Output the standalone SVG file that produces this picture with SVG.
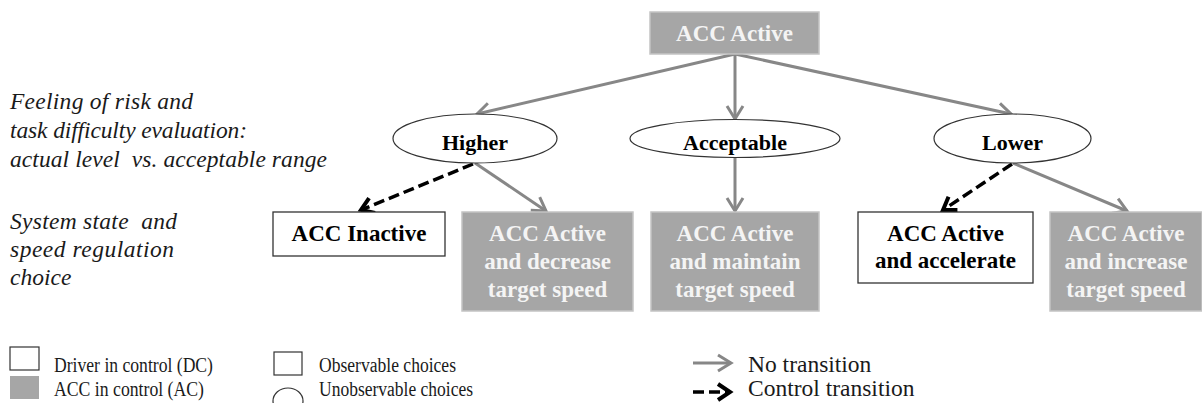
<svg xmlns="http://www.w3.org/2000/svg" width="1202" height="403" viewBox="0 0 1202 403">
<style>
text{font-family:"Liberation Serif",Tinos,"DejaVu Serif","Times New Roman",serif}
.ac{fill:#a6a6a6;stroke:#c4c4c4;stroke-width:1.5}
.dc{fill:#fff;stroke:#333;stroke-width:1.3}
.ell{fill:#fff;stroke:#333;stroke-width:1.2}
.bw{font-weight:bold;font-size:23px;fill:#f4f4f4;text-anchor:middle}
.bb{font-weight:bold;font-size:23px;fill:#000;text-anchor:middle}
.it{font-style:italic;font-size:23.5px;fill:#1a1a1a}
.lg{font-size:20.5px;fill:#1a1a1a}
.lg2{font-size:23.5px;fill:#1a1a1a}
.no{fill:none;stroke:#878787;stroke-width:3}
.ct{fill:none;stroke:#000;stroke-width:3.5;stroke-dasharray:11,5}
</style>
<defs>
<marker id="ag" markerUnits="userSpaceOnUse" markerWidth="20" markerHeight="20" viewBox="-16 -10 20 20" refX="0" refY="0" orient="auto">
<path d="M-13,-8 L0,0 L-13,8" fill="none" stroke="#878787" stroke-width="3"/>
</marker>
<marker id="ab" markerUnits="userSpaceOnUse" markerWidth="20" markerHeight="20" viewBox="-16 -10 20 20" refX="0" refY="0" orient="auto">
<path d="M-12,-8 L0,0 L-12,8" fill="none" stroke="#000" stroke-width="4"/>
</marker>
</defs>

<g id="labels">
<text class="it" x="10" y="109" textLength="183">Feeling of risk and</text>
<text class="it" x="10" y="138" textLength="237">task difficulty evaluation:</text>
<text class="it" x="10" y="167" textLength="317" xml:space="preserve">actual level  vs. acceptable range</text>
<text class="it" x="10" y="229" textLength="167" xml:space="preserve">System state  and</text>
<text class="it" x="10" y="257" textLength="164">speed regulation</text>
<text class="it" x="10" y="285">choice</text>
</g>

<g id="connectors">
<line class="no" x1="735" y1="54" x2="477" y2="114" marker-end="url(#ag)"/>
<line class="no" x1="735" y1="54" x2="735" y2="119" marker-end="url(#ag)"/>
<line class="no" x1="735" y1="54" x2="1011" y2="114" marker-end="url(#ag)"/>
<line class="ct" x1="473" y1="164" x2="361" y2="210" marker-end="url(#ab)"/>
<line class="no" x1="475" y1="163" x2="546" y2="211" marker-end="url(#ag)"/>
<line class="no" x1="735" y1="157" x2="735" y2="211" marker-end="url(#ag)"/>
<line class="ct" x1="1012" y1="164" x2="943" y2="210" marker-end="url(#ab)"/>
<line class="no" x1="1013" y1="163" x2="1127" y2="211" marker-end="url(#ag)"/>
</g>

<g id="acc-active-top">
<rect class="ac" x="650" y="12" width="169" height="42"/>
<text class="bw" x="734.5" y="41">ACC Active</text>
</g>

<g id="higher">
<ellipse class="ell" cx="475" cy="138.5" rx="82" ry="24.5"/>
<text class="bb" x="475" y="150" style="font-size:22px">Higher</text>
</g>
<g id="acceptable">
<ellipse class="ell" cx="735" cy="138.5" rx="105" ry="19"/>
<text class="bb" x="735" y="150" style="font-size:22px">Acceptable</text>
</g>
<g id="lower">
<ellipse class="ell" cx="1012.5" cy="138.5" rx="78.5" ry="24.5"/>
<text class="bb" x="1012.5" y="150" style="font-size:22px">Lower</text>
</g>

<g id="acc-inactive">
<rect class="dc" x="273" y="212" width="172" height="44"/>
<text class="bb" x="359" y="241">ACC Inactive</text>
</g>
<g id="acc-decrease">
<rect class="ac" x="462" y="212" width="171" height="99"/>
<text class="bw" x="547.5" y="241">ACC Active</text>
<text class="bw" x="547.5" y="269">and decrease</text>
<text class="bw" x="547.5" y="297">target speed</text>
</g>
<g id="acc-maintain">
<rect class="ac" x="651" y="212" width="168" height="99"/>
<text class="bw" x="735" y="241">ACC Active</text>
<text class="bw" x="735" y="269">and maintain</text>
<text class="bw" x="735" y="297">target speed</text>
</g>
<g id="acc-accelerate">
<rect class="dc" x="858" y="212" width="175" height="71"/>
<text class="bb" x="945.5" y="241">ACC Active</text>
<text class="bb" x="945.5" y="268">and accelerate</text>
</g>
<g id="acc-increase">
<rect class="ac" x="1050" y="212" width="152" height="99"/>
<text class="bw" x="1126" y="241">ACC Active</text>
<text class="bw" x="1126" y="269">and increase</text>
<text class="bw" x="1126" y="297">target speed</text>
</g>

<g id="legend">
<rect x="10" y="347" width="29" height="23" fill="#fff" stroke="#333" stroke-width="1.2"/>
<rect x="10" y="376" width="29" height="23" fill="#a6a6a6"/>
<text class="lg" x="54" y="372" textLength="159" lengthAdjust="spacingAndGlyphs">Driver in control (DC)</text>
<text class="lg" x="54" y="396" textLength="150" lengthAdjust="spacingAndGlyphs">ACC in control (AC)</text>
<rect x="274" y="352" width="28" height="23" fill="#fff" stroke="#333" stroke-width="1.2"/>
<ellipse cx="288" cy="401" rx="15" ry="13" fill="#fff" stroke="#333" stroke-width="1.2"/>
<text class="lg" x="319" y="372" textLength="137" lengthAdjust="spacingAndGlyphs">Observable choices</text>
<text class="lg" x="319" y="396" textLength="154" lengthAdjust="spacingAndGlyphs">Unobservable choices</text>
<line class="no" x1="693" y1="363" x2="731" y2="363" marker-end="url(#ag)"/>
<line class="ct" x1="693" y1="392" x2="730" y2="392" stroke-dasharray="8,5" marker-end="url(#ab)"/>
<text class="lg2" x="748" y="372">No transition</text>
<text class="lg2" x="748" y="396">Control transition</text>
</g>
</svg>
